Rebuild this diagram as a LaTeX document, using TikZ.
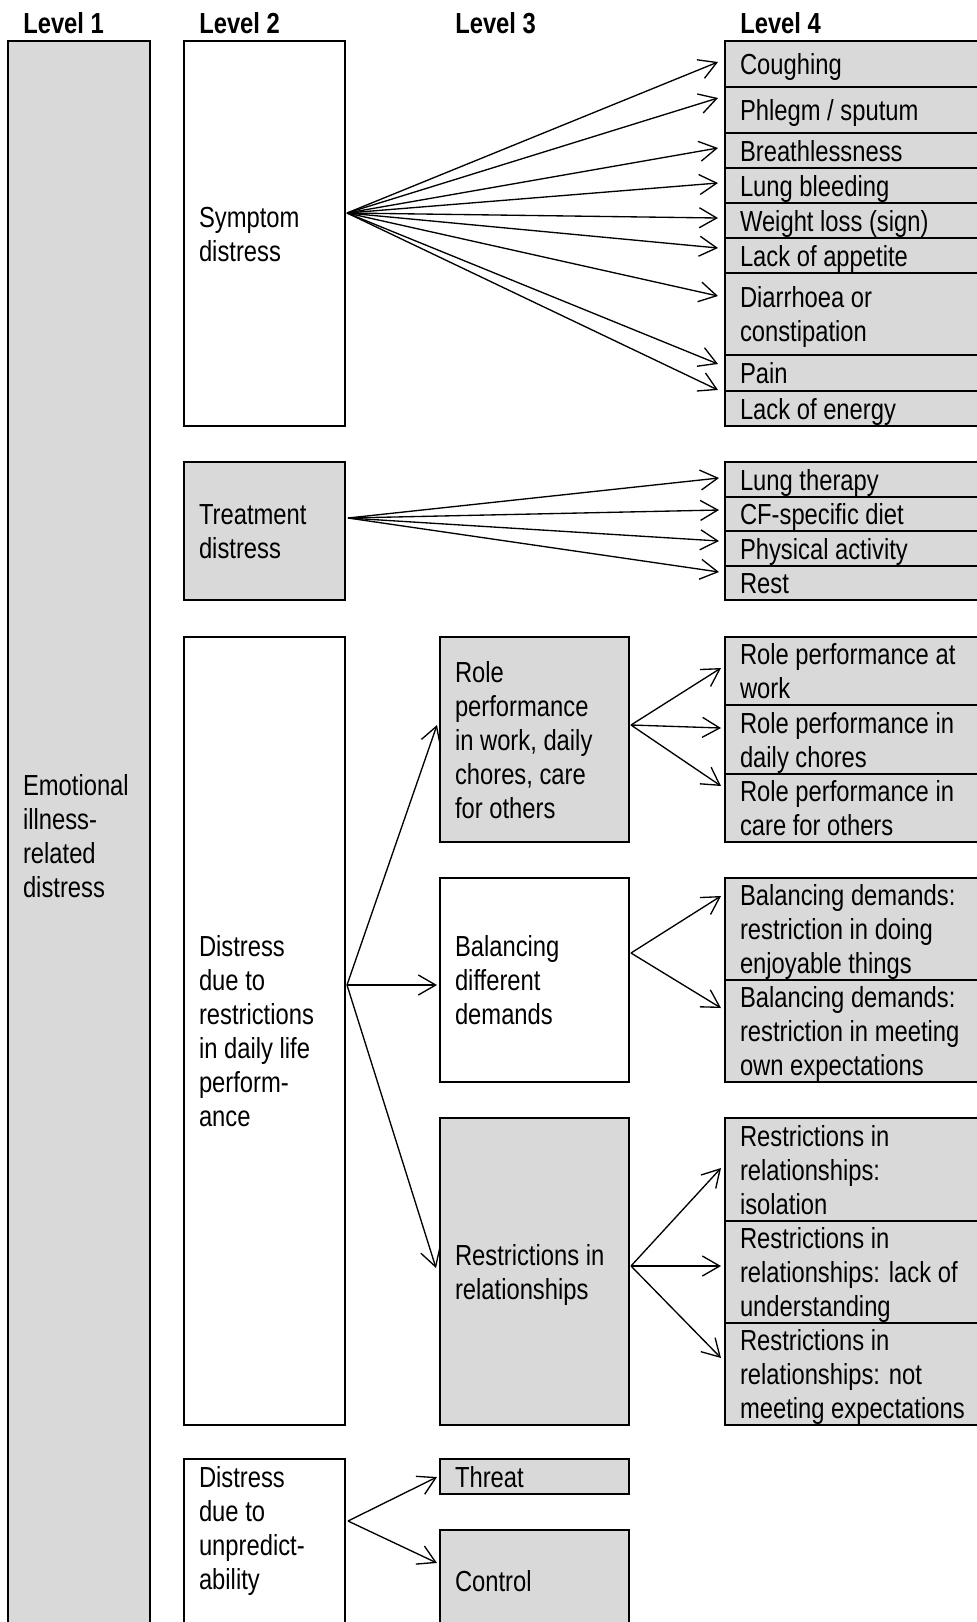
\documentclass[tikz,border=0pt]{standalone}
\usepackage{fontspec}
\setmainfont{Liberation Sans}[FakeStretch=0.82]
\usetikzlibrary{arrows.meta,calc}
\definecolor{boxgray}{RGB}{217,217,217}
\newcommand\mytopstrut{\spaceskip=0pt\xspaceskip=0pt\leavevmode\vrule width 0pt height 20.85pt depth 0pt\relax}
\newcommand\mybotstrut{\vrule width 0pt height 0pt depth 4.65pt\relax}
\tikzset{
  every node/.style={font=\fontsize{21.75pt}{25.5pt}\selectfont},
  boxbase/.style={draw=black, line width=1pt, anchor=north west, inner ysep=0pt,
    inner xsep=11.25pt, outer sep=0pt, align=left,
    execute at begin node=\mytopstrut, execute at end node=\mybotstrut},
  cone/.style={boxbase, minimum width=106.5pt, text width=84pt},
  ctwo/.style={boxbase, minimum width=120.75pt, text width=98.25pt},
  cthree/.style={boxbase, minimum width=141.75pt, text width=119.25pt},
  cfour/.style={boxbase, minimum width=202.5pt, text width=180pt},
  ht/.style={minimum height=#1*0.75pt},
  grayb/.style={fill=boxgray},
  whiteb/.style={fill=white},
  hdr/.style={font=\fontsize{21.75pt}{25.5pt}\selectfont\bfseries, anchor=west, inner sep=0pt},
  arr/.style={-{Straight Barb[length=13pt,width=15pt]}, line width=1pt}
}
\begin{document}
\begin{tikzpicture}[x=0.75pt,y=-0.75pt]
\useasboundingbox (0,0) rectangle (977,1622);
\clip (0,0) rectangle (977,1622);
\fill[white] (0,0) rectangle (977,1622);

% headers
\node[hdr] (h1) at (23,23) {Level 1};
\node[hdr] (h2) at (199,23) {Level 2};
\node[hdr] (h3) at (455,23) {Level 3};
\node[hdr] (h4) at (740,23) {Level 4};

% level 1
\node[cone, grayb, ht=1590] (l1) at (8,41) {Emotional\\illness-\\related\\distress};

% level 2
\node[ctwo, whiteb, ht=385] (symp) at (184,41) {Symptom\\distress};
\node[ctwo, grayb, ht=138] (treat) at (184,462) {Treatment\\distress};
\node[ctwo, whiteb, ht=788] (restr) at (184,637) {Distress\\due to\\restrictions\\in daily life\\perform-\\ance};
\node[ctwo, whiteb, ht=172] (unpred) at (184,1459) {Distress\\due to\\unpredict-\\ability\\ };

% level 3
\node[cthree, grayb, ht=205] (role) at (440,637) {Role\\performance\\in work, daily\\chores, care\\for others};
\node[cthree, whiteb, ht=204] (bal) at (440,878) {Balancing\\different\\demands};
\node[cthree, grayb, ht=307] (rel) at (440,1118) {Restrictions in\\relationships};
\node[cthree, grayb, ht=35] (threat) at (440,1459) {Threat};
\node[cthree, grayb, ht=101] (control) at (440,1530) {Control};

% level 4 - symptoms
\node[cfour, grayb, ht=46] (cough) at (725,41) {Coughing};
\node[cfour, grayb, ht=46] (phlegm) at (725,87) {Phlegm / sputum};
\node[cfour, grayb, ht=35] (breath) at (725,133) {Breathlessness};
\node[cfour, grayb, ht=35] (lungb) at (725,168) {Lung bleeding};
\node[cfour, grayb, ht=35] (weight) at (725,203) {Weight loss (sign)};
\node[cfour, grayb, ht=35] (appet) at (725,238) {Lack of appetite};
\node[cfour, grayb, ht=82] (diarr) at (725,273) {Diarrhoea or\\constipation};
\node[cfour, grayb, ht=36] (pain) at (725,355) {Pain};
\node[cfour, grayb, ht=35] (energy) at (725,391) {Lack of energy};

% level 4 - treatment
\node[cfour, grayb, ht=35] (lungth) at (725,462) {Lung therapy};
\node[cfour, grayb, ht=34] (diet) at (725,497) {CF-specific diet};
\node[cfour, grayb, ht=35] (phys) at (725,531) {Physical activity};
\node[cfour, grayb, ht=34] (rest) at (725,566) {Rest};

% level 4 - role
\node[cfour, grayb, ht=68] (rwork) at (725,637) {Role performance at\\work};
\node[cfour, grayb, ht=69] (rchores) at (725,705) {Role performance in\\daily chores};
\node[cfour, grayb, ht=68] (rcare) at (725,774) {Role performance in\\care for others};

% level 4 - balancing
\node[cfour, grayb, ht=102] (bone) at (725,878) {Balancing demands:\\restriction in doing\\enjoyable things};
\node[cfour, grayb, ht=102] (btwo) at (725,980) {Balancing demands:\\restriction in meeting\\own expectations};

% level 4 - relationships
\node[cfour, grayb, ht=103] (relone) at (725,1118) {Restrictions in\\relationships:\\isolation};
\node[cfour, grayb, ht=102] (reltwo) at (725,1221) {Restrictions in\\relationships: lack of\\understanding};
\node[cfour, grayb, ht=102] (relthree) at (725,1323) {Restrictions in\\relationships: not\\meeting expectations};

% arrows: symptom distress
\foreach \tgt/\dy in {cough/21, phlegm/11, breath/15, lungb/15, weight/15, appet/10, diarr/23, pain/9, energy/-1}{
  \draw[arr] ($(symp.north east)+(2,172)$) -- ($(\tgt.north west)+(-7,\dy)$);
}
% arrows: treatment distress
\foreach \tgt/\dy in {lungth/16, diet/13, phys/10, rest/6}{
  \draw[arr] ($(treat.north east)+(3,56)$) -- ($(\tgt.north west)+(-6,\dy)$);
}
% arrows: restrictions
\draw[arr] ($(restr.north east)+(2,348)$) -- ($(role.north west)+(-3,88)$);
\draw[arr] ($(restr.north east)+(2,348)$) -- ($(bal.north west)+(-3,107)$);
\draw[arr] ($(restr.north east)+(2,348)$) -- ($(rel.north west)+(-4,150)$);
% arrows: role
\draw[arr] ($(role.north east)+(2,88)$) -- ($(rwork.north west)+(-4,31)$);
\draw[arr] ($(role.north east)+(2,88)$) -- ($(rchores.north west)+(-4,23)$);
\draw[arr] ($(role.north east)+(2,88)$) -- ($(rcare.north west)+(-4,12)$);
% arrows: balancing
\draw[arr] ($(bal.north east)+(2,75)$) -- ($(bone.north west)+(-4,18)$);
\draw[arr] ($(bal.north east)+(2,75)$) -- ($(btwo.north west)+(-4,28)$);
% arrows: relationships
\draw[arr] ($(rel.north east)+(2,148)$) -- ($(relone.north west)+(-4,50)$);
\draw[arr] ($(rel.north east)+(2,148)$) -- ($(reltwo.north west)+(-4,45)$);
\draw[arr] ($(rel.north east)+(2,148)$) -- ($(relthree.north west)+(-4,35)$);
% arrows: unpredictability
\draw[arr] ($(unpred.north east)+(3,62)$) -- ($(threat.north west)+(-3,18)$);
\draw[arr] ($(unpred.north east)+(3,62)$) -- ($(control.north west)+(-3,33)$);
\end{tikzpicture}
\end{document}
